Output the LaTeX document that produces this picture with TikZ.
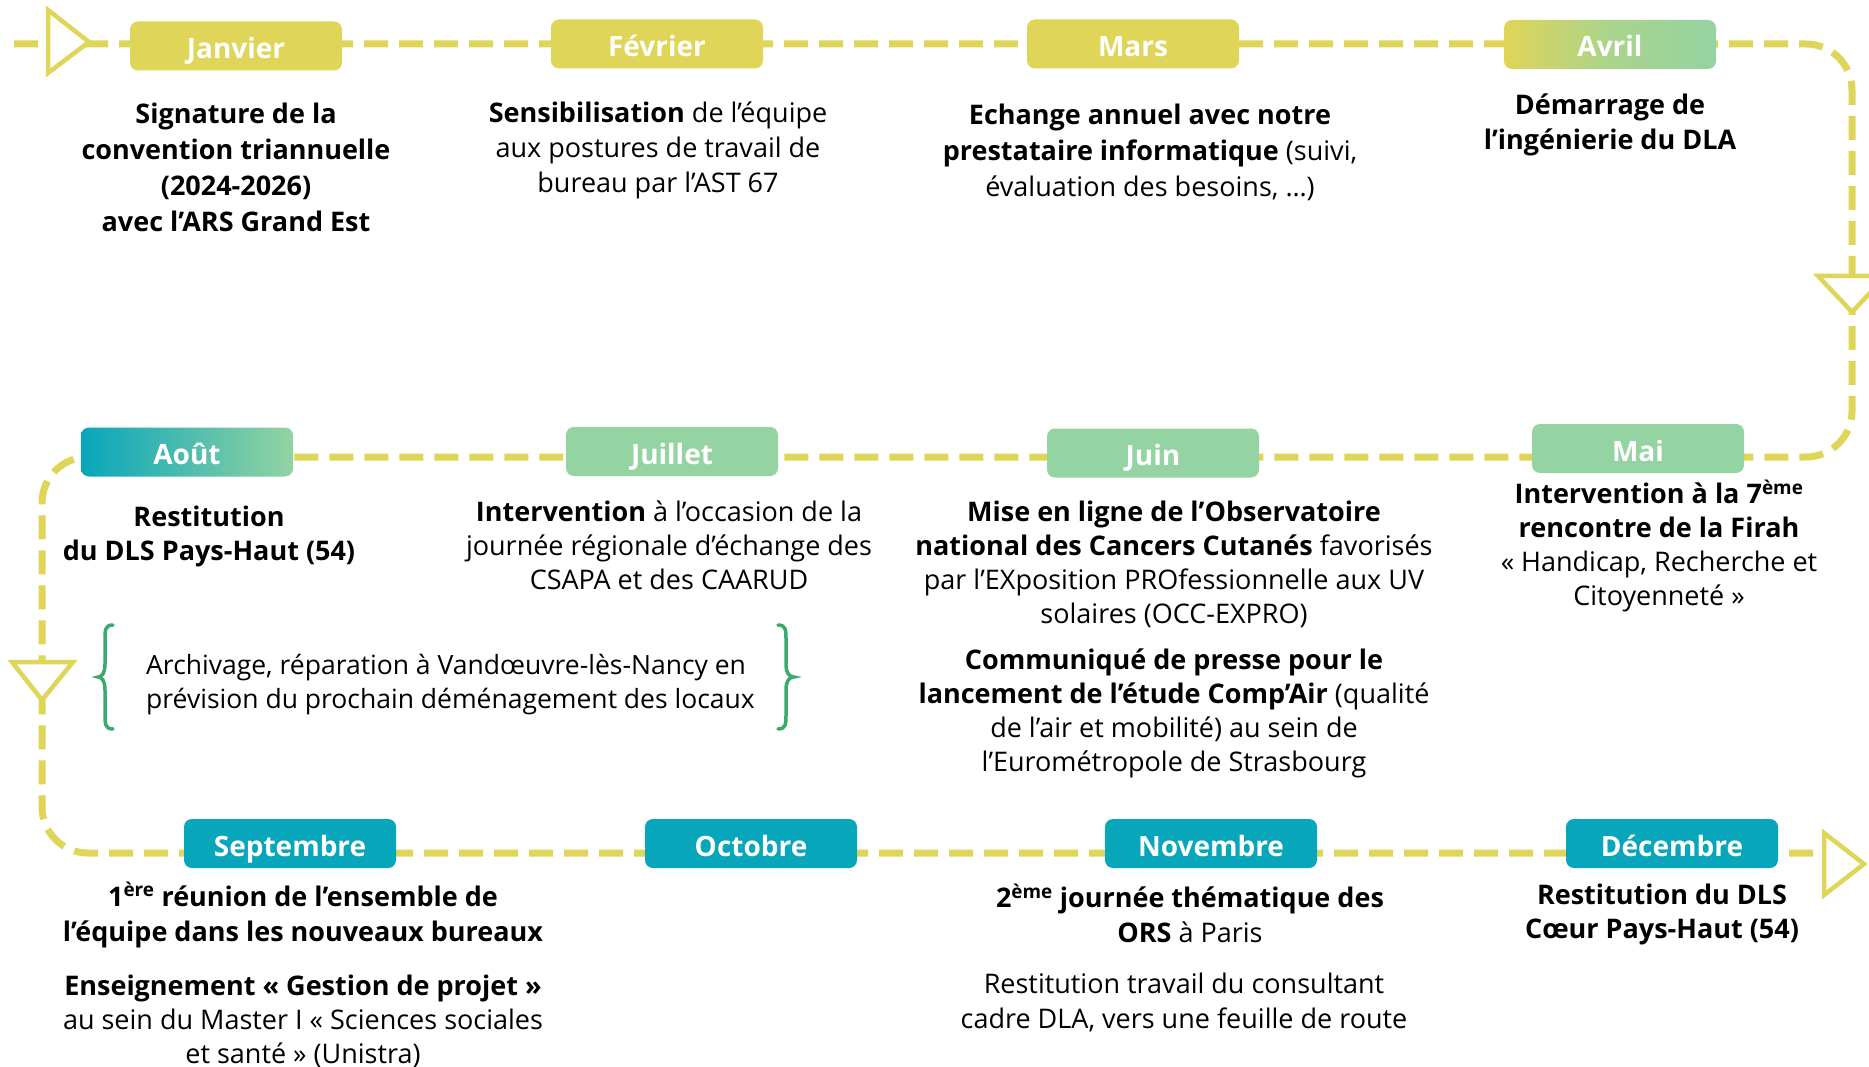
\documentclass[tikz,border=0pt]{standalone}
\usepackage{fontspec}
\setmainfont{Open Sans}
\definecolor{yel}{RGB}{223,213,88}
\definecolor{grn}{RGB}{148,211,162}
\definecolor{teal}{RGB}{7,166,186}
\definecolor{brk}{RGB}{60,170,110}
\begin{document}
\begin{tikzpicture}[x=1pt,y=-1pt,
  month/.style={rounded corners=8pt, minimum width=212pt, minimum height=49pt, inner sep=0pt, text height=25pt, text depth=0pt, text=white, font=\fontsize{28}{30}\selectfont\bfseries},
  body/.style={align=center, inner sep=0pt, font=\fontsize{27}{35}\selectfont},
  bodyb/.style={align=center, inner sep=0pt, font=\fontsize{27}{34}\selectfont},
  tri/.style={draw=yel, line width=4.5pt, fill=white, line join=miter},
  timeline/.style={draw=yel, line width=7pt, dash pattern=on 24pt off 11pt, rounded corners=46pt},
  bracket/.style={draw=brk, line width=3.5pt, line cap=round}
]
\useasboundingbox (0,0) rectangle (1869,1067);

% timeline path
\coordinate (s0) at (14,44);
\coordinate (c1) at (1852,44);
\coordinate (c2) at (1852,457);
\coordinate (c3) at (42,457);
\coordinate (c4) at (42,853);
\coordinate (e0) at (1840,853);
\draw[timeline] (s0) -- (c1) -- (c2) -- (c3) -- (c4) -- (e0);

% triangles
\draw[tri] (48,10) -- (89,42) -- (48,73) -- cycle;
\draw[tri] (1818,276) -- (1886,276) -- (1852,312) -- cycle;
\draw[tri] (12,662) -- (73,662) -- (42,700) -- cycle;
\draw[tri] (1824,833) -- (1864,864) -- (1824,895) -- cycle;

% month boxes
\node[month, fill=yel] (jan) at (236,46) {Janvier};
\node[month, fill=yel] (fev) at (657,44) {Février};
\node[month, fill=yel] (mar) at (1133,44) {Mars};
\node[month, left color=yel, right color=grn, middle color=grn!70!yel] (avr) at (1610,44.5) {Avril};
\node[month, fill=grn] (mai) at (1638,448.5) {Mai};
\node[month, fill=grn] (jui) at (1153,453) {Juin};
\node[month, fill=grn] (jul) at (672,451.5) {Juillet};
\node[month, left color=teal, right color=grn] (aou) at (187,452) {Août};
\node[month, fill=teal] (sep) at (290,843.5) {Septembre};
\node[month, fill=teal] (oct) at (751,843.5) {Octobre};
\node[month, fill=teal] (nov) at (1211,843.5) {Novembre};
\node[month, fill=teal] (dec) at (1672,843.5) {Décembre};

% texts
\node[body, font=\fontsize{27}{36}\selectfont\bfseries] (tjan) at (236,167) {Signature de la\\convention triannuelle\\(2024-2026)\\avec l’ARS Grand Est};
\node[body] (tfev) at (658,150) {\textbf{Sensibilisation} de l’équipe\\aux postures de travail de\\bureau par l’AST 67};
\node[body, font=\fontsize{27}{36}\selectfont] (tmar) at (1150,152) {\textbf{Echange annuel avec notre}\\\textbf{prestataire informatique} (suivi,\\évaluation des besoins, …)};
\node[body, font=\fontsize{27}{35}\selectfont\bfseries] (tavr) at (1610,125) {Démarrage de\\l’ingénierie du DLA};
\node[bodyb] (tmai) at (1659,546) {\textbf{Intervention à la 7\textsuperscript{ème}}\\\textbf{rencontre de la Firah}\\« Handicap, Recherche et\\Citoyenneté »};
\node[bodyb] (tjui1) at (1174,564) {\textbf{Mise en ligne de l’Observatoire}\\\textbf{national des Cancers Cutanés} favorisés\\par l’EXposition PROfessionnelle aux UV\\solaires (OCC-EXPRO)};
\node[bodyb] (tjui2) at (1174,713) {\textbf{Communiqué de presse pour le}\\\textbf{lancement de l’étude Comp’Air} (qualité\\de l’air et mobilité) au sein de\\l’Eurométropole de Strasbourg};
\node[bodyb] (tjul) at (669,545) {\textbf{Intervention} à l’occasion de la\\journée régionale d’échange des\\CSAPA et des CAARUD};
\node[bodyb, font=\fontsize{27}{34}\selectfont\bfseries] (taou) at (209,536) {Restitution\\du DLS Pays-Haut (54)};
\node[bodyb, align=left, anchor=west, font=\fontsize{26.5}{34}\selectfont] (tarc) at (146,685) {Archivage, réparation à Vandœuvre-lès-Nancy en\\prévision du prochain déménagement des locaux};
\node[body, font=\fontsize{27}{35}\selectfont\bfseries] (tsep1) at (303,915) {1\textsuperscript{ère} réunion de l’ensemble de\\l’équipe dans les nouveaux bureaux};
\node[bodyb] (tsep2) at (303,1021) {\textbf{Enseignement « Gestion de projet »}\\au sein du Master I « Sciences sociales\\et santé » (Unistra)};
\node[body] (tnov1) at (1190,913) {\textbf{2\textsuperscript{ème} journée thématique des}\\\textbf{ORS} à Paris};
\node[body] (tnov2) at (1184,1002) {Restitution travail du consultant\\cadre DLA, vers une feuille de route};
\node[body, font=\fontsize{27}{34}\selectfont\bfseries] (tdec) at (1662,914) {Restitution du DLS\\Cœur Pays-Haut (54)};

% brackets
\draw[bracket] (113,625) .. controls (105,625) and (105,630) .. (105,640) -- (105,664) .. controls (105,673) and (102,677) .. (98,677) .. controls (102,677) and (105,681) .. (105,690) -- (105,714) .. controls (105,724) and (105,729) .. (113,729);
\draw[bracket] (778,625) .. controls (786,625) and (786,630) .. (786,640) -- (786,664) .. controls (786,673) and (789,677) .. (794,677) .. controls (789,677) and (786,681) .. (786,690) -- (786,714) .. controls (786,724) and (786,729) .. (778,729);
\end{tikzpicture}
\end{document}
